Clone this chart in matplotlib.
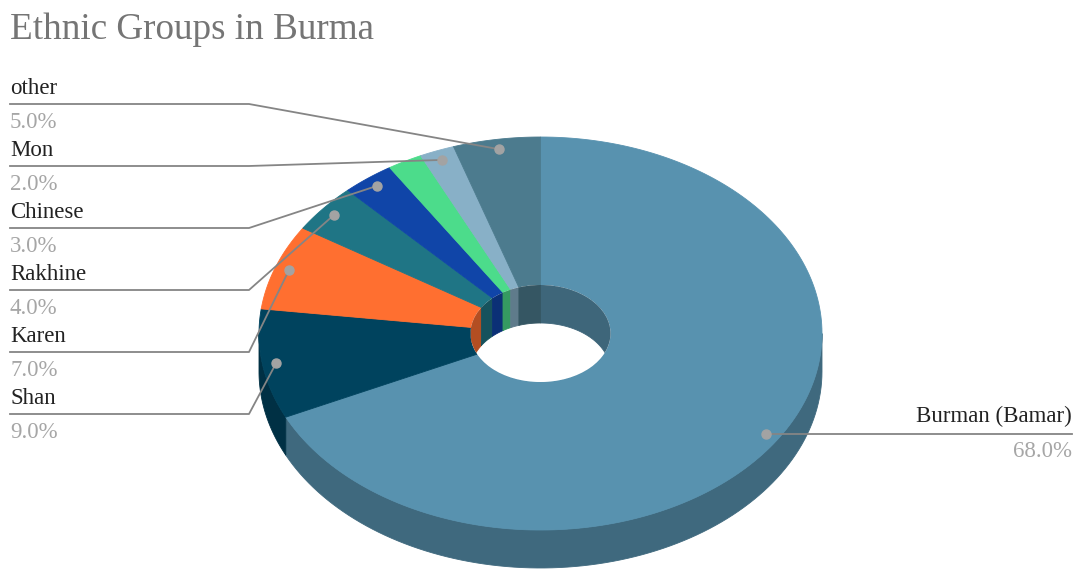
import numpy as np
import matplotlib.pyplot as plt
from matplotlib.patches import Ellipse
from matplotlib.colors import to_rgb

# dane
groups = ['Burman (Bamar)', 'Shan', 'Karen', 'Rakhine', 'Chinese', 'Indian', 'Mon', 'other']
shares = [68, 9, 7, 4, 3, 2, 2, 5]
colors = ['#5892AF', '#00435E', '#FF6F30', '#1F7585', '#1045A8', '#4CDC8B', '#88B0C7', '#4C7B8E']
left_labels = ['other', 'Mon', 'Chinese', 'Rakhine', 'Karen', 'Shan']  # opisy po lewej, od góry

# geometria "3d" (w pikselach)
cx, cy = 540.5, 333.5
rx, ry = 281.5, 196.5
rxi, ryi = 70.0, 48.5
depth = 38
dot_r = 0.95


def pt(th, a, b, dz=0.0):
    # th w stopniach, zgodnie z ruchem wskazówek od góry
    t = np.radians(th)
    return cx + a * np.sin(t), cy - b * np.cos(t) + dz


def darker(c, f=0.72):
    return tuple(v * f for v in to_rgb(c))


fig = plt.figure(figsize=(10.75, 5.7), dpi=100)
ax = fig.add_axes([0, 0, 1, 1])
ax.set_xlim(0, 1075)
ax.set_ylim(570, 0)
ax.axis('off')

total = sum(shares)
bounds = np.concatenate([[0], np.cumsum(shares)]) / total * 360

# ściany boczne zewnętrzne (przód: 90..270)
for i, c in enumerate(colors):
    a0, a1 = max(bounds[i], 90), min(bounds[i + 1], 270)
    if a1 <= a0:
        continue
    th = np.linspace(a0, a1, 100)
    xt, yt = pt(th, rx, ry)
    xb, yb = pt(th[::-1], rx, ry, depth)
    ax.fill(np.r_[xt, xb], np.r_[yt, yb], color=darker(c), lw=0.6, zorder=1)

# górne powierzchnie
for i, c in enumerate(colors):
    th = np.linspace(bounds[i], bounds[i + 1], 200)
    xo, yo = pt(th, rx, ry)
    xi, yi = pt(th[::-1], rxi, ryi)
    ax.fill(np.r_[xo, xi], np.r_[yo, yi], color=c, lw=0.6, zorder=2)

# wewnętrzna ściana otworu (tył: 270..360 i 0..90)
hole = Ellipse((cx, cy), 2 * rxi, 2 * ryi, facecolor='white', edgecolor='none', zorder=2.5)
ax.add_patch(hole)
for i, c in enumerate(colors):
    for lo, hi in [(0, 90), (270, 360)]:
        a0, a1 = max(bounds[i], lo), min(bounds[i + 1], hi)
        if a1 <= a0:
            continue
        th = np.linspace(a0, a1, 100)
        xt, yt = pt(th, rxi, ryi)
        xb, yb = pt(th[::-1], rxi, ryi, depth)
        p, = ax.fill(np.r_[xt, xb], np.r_[yt, yb], color=darker(c, 0.7), lw=0.6, zorder=3)
        p.set_clip_path(hole)

# opisy
mids = (bounds[:-1] + bounds[1:]) / 2
line_c = '#858585'
dot_c = '#A3A3A3'
fs = 16.5
serif = ['Liberation Serif', 'DejaVu Serif']

for k, name in enumerate(left_labels):
    i = groups.index(name)
    ly = 104 + k * 62
    dx, dy = pt(mids[i], rx * dot_r, ry * dot_r)
    ax.plot([10, 249, dx], [ly, ly, dy], color=line_c, lw=1.3, zorder=4)
    ax.plot(dx, dy, 'o', color=dot_c, ms=6.5, zorder=5)
    ax.text(10, ly - 16, name, fontsize=fs, family=serif, color='#222222', va='center', ha='left')
    ax.text(10, ly + 19, f'{shares[i] / total * 100:.1f}%', fontsize=fs, family=serif,
            color='#A6A6A6', va='center', ha='left')

# Burman po prawej
dx, dy = pt(mids[0], rx * dot_r, ry * dot_r)
ax.plot([dx, 1072], [dy, dy], color=line_c, lw=1.3, zorder=4)
ax.plot(dx, dy, 'o', color=dot_c, ms=6.5, zorder=5)
ax.text(1072, dy - 17, groups[0], fontsize=fs, family=serif, color='#222222', va='center', ha='right')
ax.text(1072, dy + 18, f'{shares[0] / total * 100:.1f}%', fontsize=fs, family=serif,
        color='#A6A6A6', va='center', ha='right')

ax.text(10, 30, 'Ethnic Groups in Burma', fontsize=26.7, family=serif, color='#757575',
        va='center', ha='left')

fig.savefig('out.png', dpi=100)
